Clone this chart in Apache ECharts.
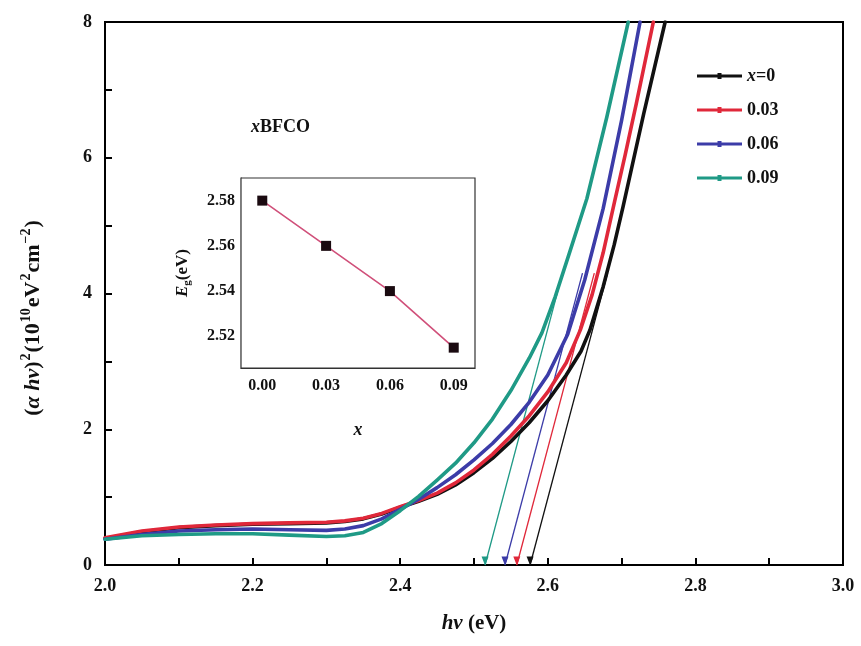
<!DOCTYPE html>
<html>
<head>
<meta charset="utf-8">
<script src="https://cdn.jsdelivr.net/npm/echarts@6/dist/echarts.min.js"></script>
<style>html,body{margin:0;padding:0;background:#fff}#c{width:861px;height:646px}</style>
</head>
<body>
<div id="c"></div>
<script>
// ---- main data: photon energy (eV) and (alpha h nu)^2 (1e10 eV^2 cm^-2) ----
var seriesNames = ['x=0', '0.03', '0.06', '0.09'];
var seriesColors = ['#111111', '#e0283a', '#3c3ca8', '#1f9a86'];

var E00 = [2.00,2.05,2.10,2.15,2.20,2.25,2.30,2.325,2.35,2.375,2.40,2.425,2.45,2.475,2.50,2.525,2.55,2.575,2.60,2.625,2.645,2.657,2.675,2.69,2.702,2.73,2.759];
var A00 = [0.39,0.49,0.55,0.58,0.60,0.61,0.62,0.64,0.68,0.75,0.85,0.94,1.04,1.18,1.36,1.57,1.82,2.10,2.42,2.80,3.15,3.46,4.10,4.72,5.28,6.65,8.00];

var E03 = [2.00,2.05,2.10,2.15,2.20,2.25,2.30,2.325,2.35,2.375,2.40,2.425,2.45,2.475,2.50,2.525,2.55,2.575,2.60,2.625,2.644,2.66,2.675,2.691,2.705,2.72,2.743];
var A03 = [0.40,0.50,0.56,0.59,0.61,0.62,0.63,0.65,0.69,0.76,0.86,0.95,1.06,1.21,1.40,1.63,1.90,2.20,2.55,2.98,3.46,3.98,4.60,5.38,6.05,6.80,8.00];

var E06 = [2.00,2.05,2.10,2.15,2.20,2.25,2.30,2.325,2.35,2.375,2.40,2.425,2.45,2.475,2.50,2.525,2.55,2.575,2.60,2.627,2.65,2.675,2.70,2.725];
var A06 = [0.38,0.45,0.50,0.52,0.53,0.52,0.51,0.53,0.58,0.68,0.82,0.97,1.14,1.33,1.55,1.79,2.07,2.40,2.80,3.40,4.20,5.25,6.55,8.00];

var E09 = [2.00,2.05,2.10,2.15,2.20,2.25,2.30,2.325,2.35,2.375,2.40,2.425,2.45,2.475,2.50,2.525,2.55,2.575,2.592,2.61,2.63,2.653,2.68,2.709];
var A09 = [0.38,0.43,0.45,0.46,0.46,0.44,0.42,0.43,0.48,0.61,0.80,1.01,1.25,1.50,1.80,2.15,2.57,3.05,3.42,3.95,4.62,5.40,6.60,8.00];

// tangent (linear extrapolation) lines: x-intercepts and upper end points
var tangentX0 = [2.576, 2.558, 2.542, 2.515];
var tangentX1 = [2.681, 2.663, 2.647, 2.620];
var tangentY1 = [4.3, 4.3, 4.3, 4.3];

// ---- inset data: band gap vs x ----
var insetX = [0.00, 0.03, 0.06, 0.09];
var insetEg = [2.580, 2.560, 2.540, 2.515];
var insetXLabels = [0.00, 0.03, 0.06, 0.09];
var insetXTicks = [0.00, 0.015, 0.03, 0.045, 0.06, 0.075, 0.09];
var insetYLabels = [2.52, 2.54, 2.56, 2.58];
var insetYTicks = [2.51, 2.52, 2.53, 2.54, 2.55, 2.56, 2.57, 2.58];

function zip(a, b) { return a.map(function (v, i) { return [v, b[i]]; }); }

var FONT = '"Liberation Serif","Times New Roman",serif';
var curveE = [E00, E03, E06, E09];
var curveA = [A00, A03, A06, A09];

var series = [];
for (var i = 0; i < 4; i++) {
  series.push({
    name: seriesNames[i], type: 'line', xAxisIndex: 0, yAxisIndex: 0,
    data: zip(curveE[i], curveA[i]),
    smooth: false,
    symbol: 'triangle', symbolSize: 4, showSymbol: false,
    lineStyle: { color: seriesColors[i], width: 3.6, join: 'round', cap: 'round' },
    itemStyle: { color: seriesColors[i] },
    z: 3 + i
  });
}
for (var j = 0; j < 4; j++) {
  series.push({
    name: 'tangent' + j, type: 'line', xAxisIndex: 0, yAxisIndex: 0,
    data: [
      { value: [tangentX0[j], 0], symbol: 'triangle', symbolSize: [7, 9], symbolRotate: 180, symbolOffset: [0, -4] },
      { value: [tangentX1[j], tangentY1[j]], symbol: 'none' }
    ],
    showSymbol: true, silent: true,
    lineStyle: { color: seriesColors[j], width: 1.3 },
    itemStyle: { color: seriesColors[j] },
    z: 2
  });
}
series.push({
  name: 'Eg', type: 'line', xAxisIndex: 1, yAxisIndex: 1,
  data: zip(insetX, insetEg),
  symbol: 'rect', symbolSize: 10,
  lineStyle: { color: '#d0507a', width: 1.6 },
  itemStyle: { color: '#1a0a10' },
  z: 20
});

var chart = echarts.init(document.getElementById('c'), null, { renderer: 'canvas' });
chart.setOption({
  backgroundColor: '#fff',
  animation: false,
  grid: [
    { left: 105, top: 22, right: 18, bottom: 81, show: true, borderColor: '#000', borderWidth: 2, backgroundColor: 'transparent', z: 1 },
    { left: 241, top: 178, width: 234, height: 190, show: true, borderColor: '#333', borderWidth: 1.2, backgroundColor: '#fff', z: 10 }
  ],
  legend: {
    data: seriesNames, orient: 'vertical', left: 692, top: 61,
    itemWidth: 45, itemHeight: 9, itemGap: 14,
    textStyle: {
      fontFamily: FONT, fontSize: 18, fontWeight: 'bold', color: '#111', lineHeight: 20,
      rich: {
        i: { fontFamily: FONT, fontSize: 18, fontStyle: 'italic', fontWeight: 'bold', color: '#111' },
        b: { fontFamily: FONT, fontSize: 18, fontWeight: 'bold', color: '#111' }
      }
    },
    formatter: function (n) { return n === 'x=0' ? '{i|x}{b|=0}' : '{b|' + n + '}'; },
    icon: 'path://M0,3 L45,3 L45,6 L0,6 Z M20.5,1.5 L24.5,1.5 L24.5,7.5 L20.5,7.5 Z'
  },
  graphic: [{
    type: 'text', left: 251, top: 118, z: 30,
    style: {
      text: '{i|x}{b|BFCO}',
      rich: {
        i: { fontFamily: FONT, fontSize: 18, fontStyle: 'italic', fontWeight: 'bold', fill: '#111' },
        b: { fontFamily: FONT, fontSize: 18, fontWeight: 'bold', fill: '#111' }
      }
    }
  }, {
    type: 'text', x: 33, y: 318, rotation: Math.PI / 2, z: 30,
    style: {
      text: '{n|(}{i|α hν}{n|)}{s|2}{n|(10}{s|10}{n|eV}{s|2}{n|cm}{s|−2}{n|)}',
      align: 'center', verticalAlign: 'middle',
      rich: {
        n: { fontFamily: FONT, fontSize: 22, fontWeight: 'bold', fill: '#111', lineHeight: 27 },
        i: { fontFamily: FONT, fontSize: 22, fontStyle: 'italic', fontWeight: 'bold', fill: '#111', lineHeight: 27 },
        s: { fontFamily: FONT, fontSize: 14, fontWeight: 'bold', fill: '#111', lineHeight: 14, verticalAlign: 'top', padding: [0, 1, 0, 1] }
      }
    }
  }],
  xAxis: [{
    gridIndex: 0, type: 'value', min: 2.0, max: 3.0, interval: 0.2,
    axisLine: { show: true, lineStyle: { color: '#000', width: 2 } },
    axisTick: { show: true, inside: true, length: 7, lineStyle: { color: '#000', width: 2 } },
    minorTick: { show: true, splitNumber: 2, length: 7, lineStyle: { color: '#000', width: 2 } },
    splitLine: { show: false },
    axisLabel: { margin: 12, fontFamily: FONT, fontSize: 18, fontWeight: 'bold', color: '#111',
      formatter: function (v) { return v.toFixed(1); } },
    name: '{i|hν}{n| (eV)}', nameLocation: 'middle', nameGap: 48,
    nameTextStyle: { rich: {
      i: { fontFamily: FONT, fontSize: 21, fontStyle: 'italic', fontWeight: 'bold', color: '#111' },
      n: { fontFamily: FONT, fontSize: 21, fontWeight: 'bold', color: '#111' } } }
  }, {
    gridIndex: 1, type: 'value', min: -0.01, max: 0.10,
    axisLine: { show: true, onZero: false, lineStyle: { color: '#333', width: 1.2 } },
    axisTick: { show: true, inside: true, length: 4, customValues: insetXTicks, lineStyle: { color: '#333' } },
    splitLine: { show: false },
    axisLabel: { margin: 10, fontFamily: FONT, fontSize: 16, fontWeight: 'bold', color: '#111',
      customValues: insetXLabels, formatter: function (v) { return v.toFixed(2); } },
    name: 'x', nameLocation: 'middle', nameGap: 53,
    nameTextStyle: { fontFamily: FONT, fontSize: 18, fontStyle: 'italic', fontWeight: 'bold', color: '#111' }
  }],
  yAxis: [{
    gridIndex: 0, type: 'value', min: 0, max: 8, interval: 2,
    axisLine: { show: true, lineStyle: { color: '#000', width: 2 } },
    axisTick: { show: true, inside: true, length: 7, lineStyle: { color: '#000', width: 2 } },
    minorTick: { show: true, splitNumber: 2, length: 7, lineStyle: { color: '#000', width: 2 } },
    splitLine: { show: false },
    axisLabel: { margin: 13, fontFamily: FONT, fontSize: 18, fontWeight: 'bold', color: '#111' }
  }, {
    gridIndex: 1, type: 'value', min: 2.506, max: 2.59,
    axisLine: { show: true, onZero: false, lineStyle: { color: '#333', width: 1.2 } },
    axisTick: { show: true, inside: true, length: 4, customValues: insetYTicks, lineStyle: { color: '#333' } },
    splitLine: { show: false },
    axisLabel: { margin: 6, fontFamily: FONT, fontSize: 16, fontWeight: 'bold', color: '#111',
      customValues: insetYLabels, formatter: function (v) { return v.toFixed(2); } },
    name: '{i|E}{sub|g}{n|(eV)}', nameLocation: 'middle', nameRotate: 90, nameGap: 48,
    nameTextStyle: { rich: {
      i: { fontFamily: FONT, fontSize: 17, fontStyle: 'italic', fontWeight: 'bold', color: '#111', lineHeight: 20 },
      sub: { fontFamily: FONT, fontSize: 11, fontWeight: 'bold', color: '#111', lineHeight: 12, verticalAlign: 'bottom' },
      n: { fontFamily: FONT, fontSize: 17, fontWeight: 'bold', color: '#111', lineHeight: 20 } } }
  }],
  series: series
});
</script>
</body>
</html>
